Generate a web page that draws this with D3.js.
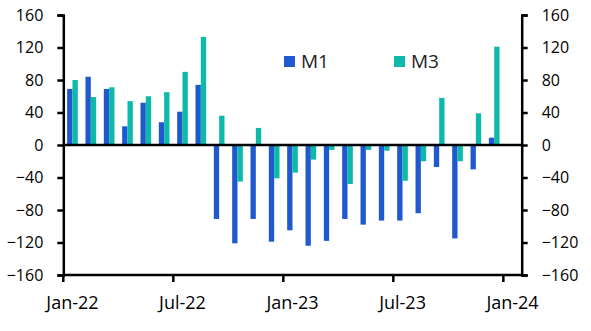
<!DOCTYPE html>
<html><head><meta charset="utf-8">
<script src="https://cdn.jsdelivr.net/npm/d3@7"></script>
<style>body{margin:0;background:#fff}svg{display:block}text{font-family:"Open Sans",sans-serif;fill:#000}</style>
</head><body>
<script>
const months = ["Jan-22","Feb-22","Mar-22","Apr-22","May-22","Jun-22","Jul-22","Aug-22","Sep-22","Oct-22","Nov-22","Dec-22",
"Jan-23","Feb-23","Mar-23","Apr-23","May-23","Jun-23","Jul-23","Aug-23","Sep-23","Oct-23","Nov-23","Dec-23","Jan-24"];
const m1 = [69,84,69,23,52,28,41,74,-91,-121,-91,-119,-105,-124,-118,-91,-98,-93,-93,-84,-27,-115,-30,9,null];
const m3 = [80,59,71,54,60,65,90,133,36,-45,21,-41,-34,-18,-6,-48,-6,-7,-44,-20,58,-20,39,121,null];
const seriesNames = ["M1","M3"];
const colors = ["#1F58CF","#0DB9A8"];
const yTicks = [-160,-120,-80,-40,0,40,80,120,160];
const xTickLabels = ["Jan-22","Jul-22","Jan-23","Jul-23","Jan-24"];

const W=591,H=331, L=63.3, R=521.7, T=15, B=275;
const svg=d3.select("body").append("svg").attr("width",W).attr("height",H);
const x=d3.scaleBand().domain(months).range([L,R]).padding(0);
const xs=d3.scaleBand().domain(seriesNames).range([0,x.bandwidth()]).paddingInner(0).paddingOuter(0.72);
const y=d3.scaleLinear().domain([-160,160]).range([B,T]);

const data=months.map((m,i)=>({m,vals:[m1[i],m3[i]]}));
const g=svg.append("g");
data.forEach(d=>{
  d.vals.forEach((v,j)=>{
    if(v==null) return;
    g.append("rect").attr("x",x(d.m)+xs(seriesNames[j])).attr("width",xs.bandwidth())
     .attr("y",y(Math.max(0,v))).attr("height",Math.abs(y(v)-y(0))).attr("fill",colors[j]);
  });
});

// axes
const yl=svg.append("g").attr("transform",`translate(${L},0)`).call(d3.axisLeft(y).tickValues(yTicks).tickSize(6).tickPadding(14));
const yr=svg.append("g").attr("transform",`translate(${R},0)`).call(d3.axisRight(y).tickValues(yTicks).tickSize(6).tickPadding(14));
[yl,yr].forEach(a=>{a.select(".domain").attr("stroke","#000").attr("stroke-width",2.5);
  a.selectAll(".tick line").attr("stroke","#000").attr("stroke-width",2.5);
  a.selectAll("text").style("font-size","16px").attr("dy","0.34em");});
// zero line
svg.append("line").attr("x1",L).attr("x2",R).attr("y1",y(0)).attr("y2",y(0)).attr("stroke","#000").attr("stroke-width",2.5);
// x axis
const xa=svg.append("g").attr("transform",`translate(0,${B})`)
 .call(d3.axisBottom(x).tickValues(xTickLabels).tickSize(7).tickSizeOuter(0));
xa.selectAll(".tick").attr("transform",d=>`translate(${x(d)},0)`);
xa.select(".domain").attr("stroke","#000").attr("stroke-width",2.5).attr("d",`M${L},0H${R}`);
xa.selectAll(".tick line").attr("stroke","#000").attr("stroke-width",2.5);
xa.selectAll("text").style("font-size","18px").attr("x",x.bandwidth()/2).attr("y",34).attr("dy",null);

// legend
const leg=[{n:"M1",x:284},{n:"M3",x:394}];
leg.forEach((l,i)=>{
  svg.append("rect").attr("x",l.x).attr("y",56).attr("width",11).attr("height",11).attr("fill",colors[i]);
  svg.append("text").attr("x",l.x+17).attr("y",67.5).text(l.n).style("font-size","19px").style("fill","#222");
});
</script>
</body></html>
